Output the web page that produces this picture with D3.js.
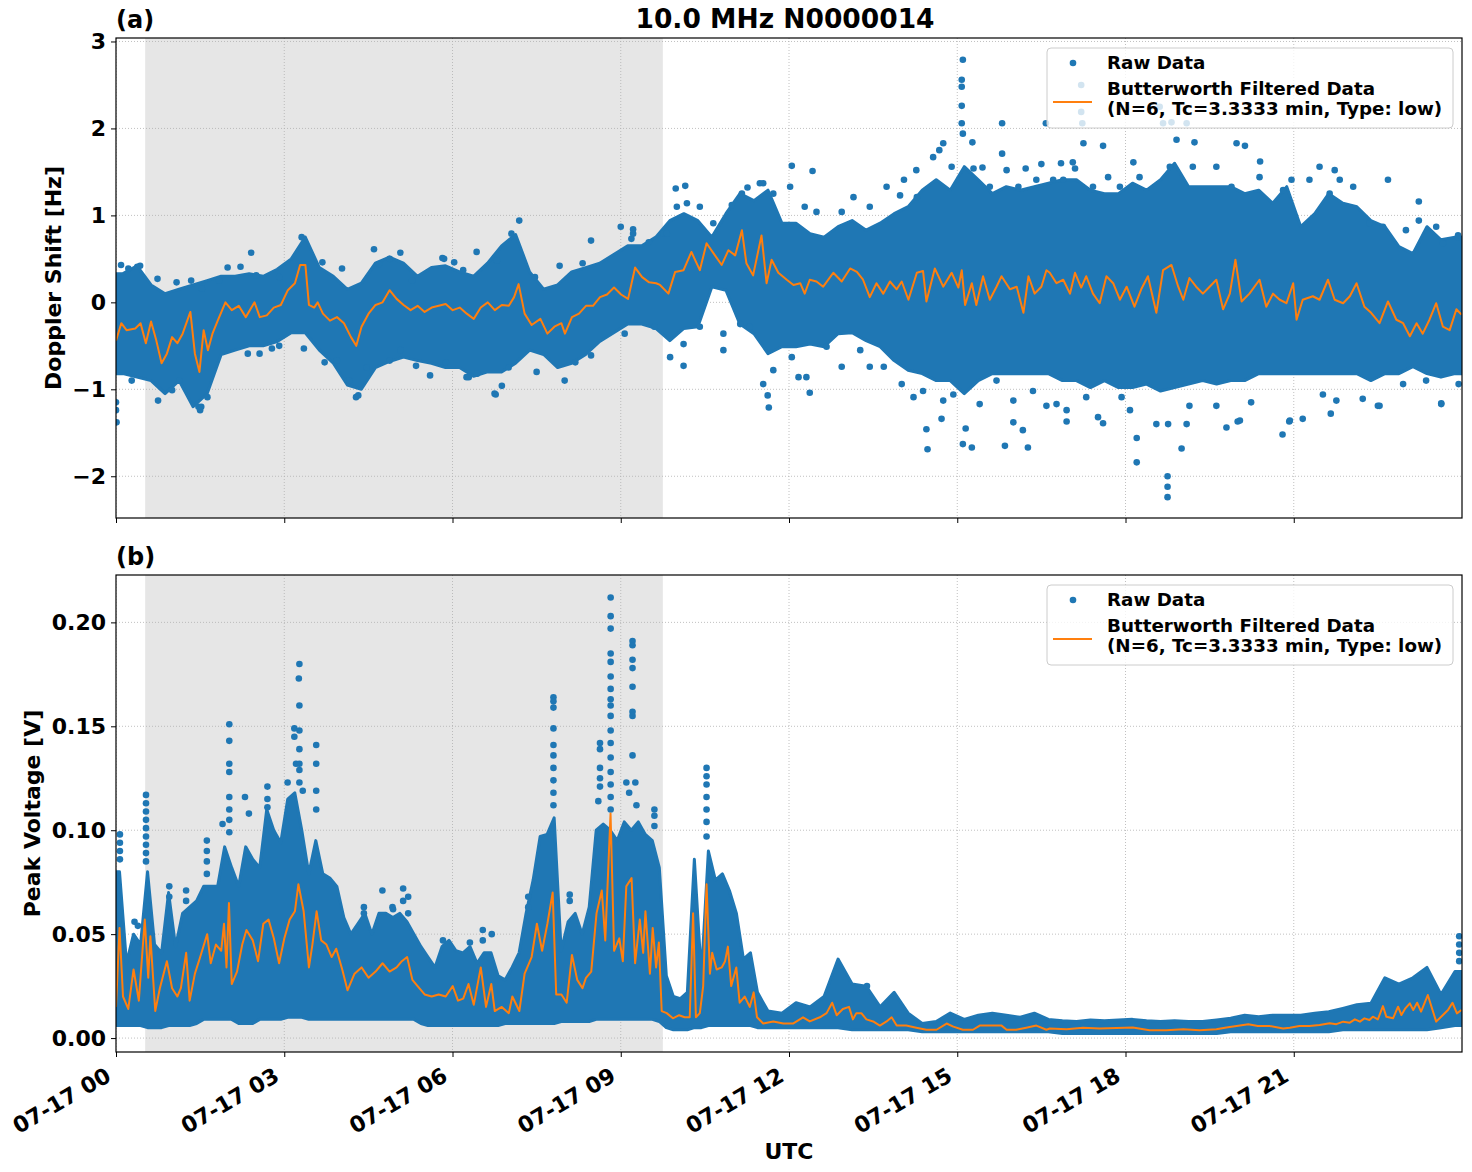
<!DOCTYPE html>
<html>
<head>
<meta charset="utf-8">
<script src="https://cdn.jsdelivr.net/npm/d3@7"></script>
<style>
  body { margin: 0; background: #fff; }
  svg text { font-family: "DejaVu Sans"; font-weight: bold; fill: #000; }
</style>
</head>
<body>
<svg id="chart" width="1472" height="1172"></svg>
<script>
const blue = "#1f77b4";
const orange = "#ff7f0e";

// x ticks (hours of 07-17 UTC)
const xTickHours = [0, 3, 6, 9, 12, 15, 18, 21];
const xTickLabels = ["07-17 00", "07-17 03", "07-17 06", "07-17 09", "07-17 12", "07-17 15", "07-17 18", "07-17 21"];
const nightSpan = [0.52, 9.75];

// Doppler raw-data cloud, read per 15-minute bin: upper / lower extent of the dense dots
const dopplerHi = [
  0.33, 0.42, 0.20, 0.10, 0.15, 0.20, 0.25, 0.30,
  0.30, 0.33, 0.30, 0.38, 0.50, 0.75, 0.40, 0.30,
  0.15, 0.22, 0.45, 0.52, 0.45, 0.30, 0.40, 0.42,
  0.35, 0.30, 0.45, 0.65, 0.78, 0.35, 0.15, 0.20,
  0.35, 0.40, 0.45, 0.55, 0.65, 0.65, 0.75, 0.94,
  1.02, 0.94, 0.75, 1.02, 1.25, 1.17, 1.29, 0.91,
  0.91, 0.79, 0.75, 0.87, 0.94, 0.83, 0.91, 1.02,
  1.10, 1.29, 1.41, 1.29, 1.56, 1.41, 1.25, 1.33,
  1.29, 1.33, 1.37, 1.41, 1.41, 1.29, 1.25, 1.25,
  1.37, 1.29, 1.41, 1.60, 1.33, 1.33, 1.33, 1.33,
  1.25, 1.29, 1.14, 1.33, 0.87, 1.02, 1.25, 1.14,
  1.10, 0.94, 0.87, 0.64, 0.56, 0.87, 0.72, 0.75
];
const dopplerLo = [
  -0.82, -0.86, -0.90, -1.05, -0.90, -1.20, -1.05, -0.60,
  -0.55, -0.50, -0.50, -0.45, -0.35, -0.35, -0.55, -0.70,
  -0.95, -1.00, -0.75, -0.68, -0.63, -0.67, -0.70, -0.75,
  -0.75, -0.85, -0.80, -0.80, -0.70, -0.55, -0.60, -0.75,
  -0.70, -0.60, -0.45, -0.35, -0.25, -0.25, -0.30, -0.44,
  -0.30, -0.28, 0.18, 0.14, -0.25, -0.36, -0.59, -0.51,
  -0.51, -0.48, -0.51, -0.36, -0.35, -0.44, -0.51, -0.67,
  -0.78, -0.82, -0.90, -0.90, -1.05, -0.90, -0.82, -0.82,
  -0.82, -0.82, -0.82, -0.90, -0.90, -0.98, -0.90, -0.98,
  -0.98, -0.94, -1.02, -0.98, -0.94, -0.90, -0.94, -0.90,
  -0.90, -0.82, -0.82, -0.82, -0.82, -0.82, -0.82, -0.82,
  -0.82, -0.90, -0.82, -0.82, -0.74, -0.82, -0.86, -0.82
];

// Peak-voltage raw-data cloud: [bin centre hour, lower, upper]
const voltCloud = [
  [0.0625, 0.006, 0.080], [0.1875, 0.006, 0.036], [0.3125, 0.006, 0.050], [0.4375, 0.006, 0.045],
  [0.5625, 0.005, 0.080], [0.6875, 0.005, 0.045], [0.8125, 0.005, 0.041], [0.9375, 0.006, 0.070],
  [1.0625, 0.006, 0.044], [1.1875, 0.006, 0.060], [1.3125, 0.006, 0.063], [1.4375, 0.007, 0.066],
  [1.5625, 0.009, 0.073], [1.6875, 0.009, 0.073], [1.8125, 0.009, 0.073], [1.9375, 0.009, 0.092],
  [2.0625, 0.009, 0.082], [2.1875, 0.007, 0.073], [2.3125, 0.007, 0.092], [2.4375, 0.007, 0.086],
  [2.5625, 0.009, 0.082], [2.6875, 0.009, 0.110], [2.8125, 0.009, 0.100], [2.9375, 0.009, 0.094],
  [3.0625, 0.010, 0.115], [3.1875, 0.010, 0.118], [3.3125, 0.010, 0.100], [3.4375, 0.009, 0.079],
  [3.5625, 0.009, 0.095], [3.6875, 0.009, 0.079], [3.8125, 0.009, 0.077], [3.9375, 0.009, 0.073],
  [4.0625, 0.009, 0.058], [4.1875, 0.009, 0.050], [4.3125, 0.009, 0.055], [4.4375, 0.009, 0.060],
  [4.5625, 0.009, 0.050], [4.6875, 0.009, 0.060], [4.8125, 0.009, 0.060], [4.9375, 0.009, 0.058],
  [5.0625, 0.009, 0.060], [5.1875, 0.009, 0.056], [5.3125, 0.009, 0.050], [5.4375, 0.007, 0.044],
  [5.5625, 0.006, 0.039], [5.6875, 0.006, 0.034], [5.8125, 0.006, 0.044], [5.9375, 0.006, 0.047],
  [6.0625, 0.006, 0.042], [6.1875, 0.006, 0.041], [6.3125, 0.006, 0.044], [6.4375, 0.006, 0.036],
  [6.5625, 0.006, 0.041], [6.6875, 0.006, 0.041], [6.8125, 0.006, 0.030], [6.9375, 0.007, 0.028],
  [7.0625, 0.007, 0.034], [7.1875, 0.007, 0.041], [7.3125, 0.007, 0.060], [7.4375, 0.007, 0.076],
  [7.5625, 0.007, 0.097], [7.6875, 0.007, 0.098], [7.8125, 0.007, 0.106], [7.9375, 0.008, 0.042],
  [8.0625, 0.008, 0.056], [8.1875, 0.008, 0.060], [8.3125, 0.008, 0.050], [8.4375, 0.008, 0.063],
  [8.5625, 0.009, 0.100], [8.6875, 0.009, 0.103], [8.8125, 0.009, 0.100], [8.9375, 0.009, 0.095],
  [9.0625, 0.009, 0.104], [9.1875, 0.009, 0.100], [9.3125, 0.009, 0.104], [9.4375, 0.009, 0.098],
  [9.5625, 0.009, 0.095], [9.6875, 0.008, 0.082], [9.8125, 0.005, 0.030], [9.9375, 0.004, 0.020],
  [10.0625, 0.004, 0.019], [10.1875, 0.004, 0.022], [10.3125, 0.005, 0.086], [10.4375, 0.005, 0.030],
  [10.5625, 0.006, 0.090], [10.6875, 0.006, 0.076], [10.8125, 0.006, 0.079], [10.9375, 0.006, 0.071],
  [11.0625, 0.006, 0.060], [11.1875, 0.006, 0.038], [11.3125, 0.006, 0.041], [11.4375, 0.005, 0.022],
  [11.625, 0.005, 0.013], [11.875, 0.005, 0.012], [12.125, 0.005, 0.017], [12.375, 0.005, 0.015],
  [12.625, 0.005, 0.020], [12.875, 0.005, 0.038], [13.125, 0.004, 0.026], [13.375, 0.004, 0.025],
  [13.625, 0.004, 0.015], [13.875, 0.004, 0.022], [14.125, 0.004, 0.012], [14.375, 0.003, 0.007],
  [14.625, 0.003, 0.008], [14.875, 0.003, 0.012], [15.125, 0.003, 0.009], [15.375, 0.003, 0.011],
  [15.625, 0.003, 0.012], [15.875, 0.003, 0.011], [16.125, 0.003, 0.010], [16.375, 0.003, 0.012],
  [16.625, 0.003, 0.009], [16.875, 0.0022, 0.0083], [17.125, 0.0022, 0.008], [17.375, 0.0022, 0.0087],
  [17.625, 0.0022, 0.0083], [17.875, 0.0022, 0.0087], [18.125, 0.0022, 0.009], [18.375, 0.0022, 0.0083],
  [18.625, 0.0022, 0.008], [18.875, 0.0022, 0.0083], [19.125, 0.0022, 0.008], [19.375, 0.0022, 0.008],
  [19.625, 0.0022, 0.0087], [19.875, 0.003, 0.0095], [20.125, 0.003, 0.011], [20.375, 0.003, 0.0103],
  [20.625, 0.003, 0.011], [20.875, 0.003, 0.011], [21.125, 0.003, 0.011], [21.375, 0.003, 0.0119],
  [21.625, 0.003, 0.0127], [21.875, 0.004, 0.0143], [22.125, 0.004, 0.016], [22.375, 0.004, 0.0167],
  [22.625, 0.004, 0.029], [22.875, 0.004, 0.026], [23.125, 0.004, 0.029], [23.375, 0.004, 0.034],
  [23.625, 0.005, 0.021], [23.875, 0.006, 0.032]
];

// isolated raw points outside the dense cloud: [hour, value]
const dopplerOutliers = [
  [0.0, -1.15], [0.0, -1.24], [0.01, -1.38], [0.09, 0.43], [0.22, 0.39], [0.28, -0.90], [0.38, 0.41],
  [0.43, 0.42], [0.74, 0.27], [0.75, -1.13], [1.0, -1.01], [1.08, 0.23], [1.13, -0.9], [1.34, 0.25],
  [1.47, -1.2], [1.5, -1.24], [1.52, -1.2], [1.53, 0.16], [1.63, -1.09], [1.84, 0.25], [1.99, 0.40],
  [2.22, 0.41], [2.35, -0.59], [2.41, 0.57], [2.5, 0.31], [2.56, -0.59], [2.78, -0.53], [2.91, 0.29],
  [2.91, -0.5], [3.31, 0.75], [3.35, -0.53], [3.68, 0.46], [3.72, -0.69], [3.94, -0.67], [4.03, 0.39],
  [4.13, -0.9], [4.16, -0.9], [4.28, -1.09], [4.32, -1.07], [4.47, -0.75], [4.6, 0.61], [4.69, 0.44],
  [4.88, 0.5], [4.88, -0.67], [5.07, 0.57], [5.07, -0.55], [5.28, 0.25], [5.35, -0.73], [5.6, -0.84],
  [5.82, 0.51], [5.85, 0.50], [5.88, -0.69], [6.03, 0.46], [6.19, 0.37], [6.25, -0.86], [6.29, -0.86],
  [6.43, 0.58], [6.44, -0.82], [6.75, -1.05], [6.77, -1.06], [6.79, 0.48], [6.88, -0.96], [7.0, -0.75],
  [7.05, 0.79], [7.19, 0.94], [7.47, 0.29], [7.5, -0.8], [7.91, 0.42], [8.0, -0.9], [8.19, -0.69],
  [8.32, 0.45], [8.47, 0.71], [8.47, -0.61], [9.0, 0.87], [9.07, -0.36], [9.19, 0.73], [9.22, 0.84],
  [9.22, 0.79], [9.5, 0.69], [9.6, -0.28], [9.76, 0.79], [9.82, 0.79], [9.88, -0.63], [9.98, 1.31],
  [10.0, 1.1], [10.12, -0.73], [10.12, -0.48], [10.15, 1.34], [10.18, 1.14], [10.41, 1.1], [10.41, -0.28],
  [10.65, 0.91], [10.83, -0.36], [10.83, -0.55], [10.98, 1.12], [11.13, -0.25], [11.16, 1.25], [11.26, 1.32],
  [11.3, -0.28], [11.48, 1.37], [11.54, 1.37], [11.54, -0.94], [11.62, -1.07], [11.64, -1.21], [11.72, 1.25],
  [11.72, -0.78], [12.02, 1.33], [12.05, 1.57], [12.05, -0.63], [12.17, -0.86], [12.28, 1.1], [12.31, -0.86],
  [12.37, -1.04], [12.42, 1.51], [12.49, 1.04], [12.67, -0.51], [12.94, 1.04], [12.94, -0.74], [13.15, 1.21],
  [13.27, -0.55], [13.44, 1.1], [13.44, -0.74], [13.69, -0.74], [13.74, 1.33], [13.98, 1.23], [14.01, -0.94],
  [14.05, 1.41], [14.22, -1.09], [14.27, 1.52], [14.28, 1.21], [14.39, -1.02], [14.45, -1.46], [14.47, -1.69],
  [14.57, 1.67], [14.68, 1.75], [14.72, -1.34], [14.75, 1.83], [14.75, -1.13], [14.9, 1.56], [14.93, -1.06],
  [15.08, 2.56], [15.08, 2.48], [15.08, 2.26], [15.08, 2.06], [15.1, 2.79], [15.1, 1.94], [15.1, -1.63],
  [15.15, -1.45], [15.26, -1.67], [15.27, 1.84], [15.29, 1.54], [15.4, -1.17], [15.45, 1.55], [15.58, 1.33],
  [15.7, -0.9], [15.8, 2.06], [15.8, 1.71], [15.85, -1.65], [15.88, 1.52], [16.0, -1.38], [16.0, -1.13],
  [16.09, 1.33], [16.17, -1.47], [16.22, 1.54], [16.26, -1.67], [16.35, -1.02], [16.41, 1.41], [16.5, 1.59],
  [16.58, 2.06], [16.59, -1.19], [16.71, 1.41], [16.77, -1.17], [16.85, 1.6], [16.89, 1.41], [16.95, -1.37],
  [16.95, -1.24], [17.06, 1.61], [17.1, 1.54], [17.21, 2.5], [17.21, 2.19], [17.23, 2.06], [17.25, 1.83],
  [17.3, -1.09], [17.42, 1.33], [17.51, -1.32], [17.6, 1.8], [17.6, -1.39], [17.69, 1.44], [17.9, 1.33],
  [17.93, -1.09], [18.08, -1.24], [18.14, 1.61], [18.2, -1.84], [18.2, -1.56], [18.25, 1.44], [18.55, -1.4],
  [18.61, 2.25], [18.67, 2.06], [18.75, -2.0], [18.75, -2.12], [18.75, -2.24], [18.76, -1.4], [18.79, 1.56],
  [18.82, 2.07], [18.91, 1.87], [19.0, -1.68], [19.09, 2.06], [19.09, -1.4], [19.14, -1.19], [19.2, 1.56],
  [19.23, 1.84], [19.62, 1.56], [19.62, -1.19], [19.8, -1.44], [19.89, 1.33], [19.98, 1.83], [20.0, -1.37],
  [20.04, -1.36], [20.13, 1.8], [20.24, -1.15], [20.39, 1.44], [20.4, 1.62], [20.8, -1.52], [20.81, 1.29],
  [20.92, -1.37], [20.93, -1.36], [20.96, 1.41], [21.16, -1.34], [21.28, 1.41], [21.46, 1.56], [21.52, -1.06],
  [21.64, 1.25], [21.66, -1.28], [21.73, 1.52], [21.76, -1.13], [21.82, 1.41], [22.06, 1.33], [22.23, -1.11],
  [22.35, 0.91], [22.5, -1.19], [22.53, -1.19], [22.59, 0.87], [22.68, 1.41], [22.95, -0.94], [23.0, 0.83],
  [23.23, 1.16], [23.23, 0.94], [23.36, -0.9], [23.54, 0.87], [23.63, -1.17], [23.63, -1.16], [23.66, 0.68],
  [23.93, 0.75], [23.93, 0.77], [23.94, -0.94]
];
const voltOutliers = [
  [0.07, 0.098], [0.07, 0.094], [0.07, 0.090], [0.07, 0.086],
  [0.33, 0.056], [0.39, 0.054],
  [0.535, 0.117], [0.535, 0.113], [0.535, 0.109], [0.535, 0.105], [0.535, 0.101], [0.535, 0.097],
  [0.535, 0.093], [0.535, 0.089], [0.535, 0.085],
  [0.95, 0.073], [0.95, 0.068], [1.25, 0.071], [1.25, 0.066],
  [1.62, 0.095], [1.62, 0.090], [1.62, 0.085], [1.62, 0.079], [1.9, 0.103],
  [2.02, 0.151], [2.02, 0.143], [2.02, 0.132], [2.02, 0.128], [2.02, 0.116], [2.02, 0.110],
  [2.02, 0.105], [2.02, 0.099], [2.3, 0.116], [2.37, 0.108],
  [2.70, 0.121], [2.70, 0.115], [2.70, 0.111],
  [3.06, 0.123], [3.18, 0.149], [3.18, 0.145], [3.21, 0.132],
  [3.27, 0.180], [3.26, 0.173], [3.27, 0.160], [3.27, 0.148], [3.27, 0.139], [3.27, 0.132],
  [3.27, 0.129], [3.27, 0.123], [3.33, 0.119],
  [3.57, 0.141], [3.57, 0.132], [3.57, 0.119], [3.57, 0.110],
  [4.42, 0.063], [4.42, 0.060], [4.75, 0.071], [4.93, 0.063], [4.94, 0.062],
  [5.12, 0.072], [5.12, 0.066], [5.21, 0.068], [5.21, 0.060],
  [5.83, 0.047], [6.31, 0.046], [6.54, 0.052], [6.54, 0.047], [6.70, 0.050],
  [7.35, 0.068], [7.35, 0.063],
  [7.80, 0.164], [7.80, 0.162], [7.80, 0.159], [7.80, 0.149], [7.80, 0.141], [7.80, 0.136],
  [7.80, 0.130], [7.80, 0.124], [7.80, 0.118], [7.80, 0.112],
  [8.09, 0.069], [8.09, 0.066],
  [8.63, 0.142], [8.63, 0.139], [8.63, 0.130], [8.63, 0.125], [8.63, 0.121], [8.60, 0.114],
  [8.82, 0.212], [8.82, 0.203], [8.82, 0.197], [8.82, 0.185], [8.82, 0.181], [8.82, 0.174],
  [8.82, 0.168], [8.82, 0.163], [8.82, 0.160], [8.82, 0.155], [8.82, 0.148], [8.82, 0.142],
  [8.82, 0.135], [8.82, 0.128], [8.82, 0.122], [8.82, 0.116], [8.82, 0.110],
  [9.10, 0.123], [9.15, 0.118], [9.21, 0.191], [9.21, 0.189], [9.21, 0.182], [9.21, 0.178],
  [9.21, 0.169], [9.21, 0.157], [9.21, 0.155], [9.21, 0.136], [9.26, 0.123], [9.28, 0.112],
  [9.60, 0.110], [9.60, 0.107], [9.60, 0.102],
  [10.53, 0.130], [10.53, 0.126], [10.53, 0.122], [10.53, 0.116], [10.53, 0.110], [10.53, 0.104],
  [10.53, 0.097],
  [13.39, 0.025], [23.95, 0.049], [23.95, 0.045], [23.95, 0.041], [23.95, 0.037]
];

// Butterworth filtered series: [hour, value]
const dopplerFiltered = [
  [0, -0.44], [0.094, -0.24], [0.188, -0.32], [0.344, -0.30], [0.438, -0.24], [0.532, -0.47], [0.625, -0.22],
  [0.719, -0.44], [0.813, -0.70], [0.907, -0.59], [1.0, -0.40], [1.094, -0.47], [1.188, -0.36], [1.326, -0.11],
  [1.407, -0.59], [1.488, -0.80], [1.563, -0.32], [1.639, -0.55], [1.72, -0.36], [1.814, -0.21], [1.951, 0.0],
  [2.064, -0.09], [2.189, -0.04], [2.314, -0.17], [2.47, 0.0], [2.564, -0.17], [2.689, -0.15], [2.814, -0.06],
  [2.939, -0.03], [3.064, 0.14], [3.19, 0.22], [3.283, 0.43], [3.377, 0.43], [3.44, -0.03], [3.533, -0.06],
  [3.596, 0.0], [3.69, -0.13], [3.815, -0.21], [3.94, -0.17], [4.065, -0.24], [4.19, -0.40], [4.284, -0.50],
  [4.378, -0.28], [4.503, -0.13], [4.628, -0.03], [4.753, 0.0], [4.878, 0.14], [5.003, 0.04], [5.128, -0.03],
  [5.253, -0.09], [5.378, -0.04], [5.503, -0.11], [5.629, -0.06], [5.754, -0.04], [5.879, -0.02], [6.004, -0.09],
  [6.129, -0.06], [6.254, -0.13], [6.379, -0.19], [6.504, -0.06], [6.629, 0.0], [6.754, -0.09], [6.879, -0.03],
  [7.004, -0.04], [7.098, 0.06], [7.179, 0.21], [7.286, -0.13], [7.411, -0.26], [7.567, -0.19], [7.692, -0.36],
  [7.817, -0.28], [7.942, -0.24], [8.005, -0.36], [8.13, -0.17], [8.255, -0.13], [8.38, -0.04], [8.505, -0.04],
  [8.63, 0.06], [8.755, 0.09], [8.88, 0.17], [9.006, 0.09], [9.131, 0.04], [9.256, 0.40], [9.381, 0.29],
  [9.506, 0.23], [9.631, 0.22], [9.70, 0.20], [9.85, 0.10], [9.97, 0.35], [10.12, 0.37], [10.26, 0.58],
  [10.41, 0.37], [10.53, 0.68], [10.68, 0.54], [10.80, 0.43], [10.92, 0.60], [11.04, 0.54], [11.16, 0.83],
  [11.24, 0.45], [11.36, 0.31], [11.51, 0.77], [11.60, 0.22], [11.69, 0.49], [11.81, 0.34], [11.96, 0.26],
  [12.08, 0.20], [12.20, 0.22], [12.28, 0.10], [12.37, 0.26], [12.49, 0.24], [12.61, 0.18], [12.79, 0.34],
  [12.94, 0.24], [13.09, 0.39], [13.21, 0.35], [13.32, 0.26], [13.44, 0.06], [13.56, 0.22], [13.68, 0.10],
  [13.80, 0.24], [13.92, 0.15], [14.01, 0.24], [14.13, 0.03], [14.28, 0.34], [14.39, 0.36], [14.45, 0.01],
  [14.60, 0.39], [14.75, 0.18], [14.90, 0.34], [15.02, 0.17], [15.08, 0.37], [15.14, -0.03], [15.26, 0.22],
  [15.34, -0.03], [15.46, 0.30], [15.58, 0.03], [15.70, 0.18], [15.79, 0.30], [15.94, 0.15], [16.06, 0.18],
  [16.18, -0.12], [16.27, 0.30], [16.38, 0.10], [16.50, 0.18], [16.59, 0.37], [16.65, 0.34], [16.77, 0.22],
  [16.89, 0.26], [17.01, 0.10], [17.10, 0.34], [17.21, 0.17], [17.30, 0.30], [17.42, 0.10], [17.54, -0.01],
  [17.66, 0.30], [17.78, 0.22], [17.90, 0.03], [18.02, 0.18], [18.16, -0.05], [18.28, 0.15], [18.40, 0.30],
  [18.55, -0.12], [18.67, 0.37], [18.82, 0.43], [18.94, 0.18], [19.03, 0.03], [19.14, 0.28], [19.26, 0.18],
  [19.38, 0.10], [19.50, 0.18], [19.62, 0.26], [19.74, -0.08], [19.86, 0.10], [19.96, 0.49], [20.07, 0.01],
  [20.21, 0.10], [20.39, 0.26], [20.51, -0.05], [20.63, 0.10], [20.75, 0.03], [20.87, -0.01], [20.99, 0.22],
  [21.05, -0.20], [21.16, 0.03], [21.34, 0.07], [21.46, 0.03], [21.61, 0.26], [21.73, 0.03], [21.88, -0.01],
  [22.00, 0.07], [22.12, 0.22], [22.26, -0.05], [22.38, -0.12], [22.53, -0.24], [22.68, 0.01], [22.83, -0.20],
  [22.95, -0.24], [23.07, -0.39], [23.19, -0.24], [23.30, -0.36], [23.42, -0.20], [23.54, -0.01], [23.66, -0.28],
  [23.78, -0.32], [23.90, -0.08], [23.99, -0.14]
];
const voltFiltered = [
  [0, 0.015], [0.063, 0.053], [0.125, 0.020], [0.219, 0.014], [0.313, 0.033], [0.407, 0.018], [0.513, 0.057],
  [0.575, 0.029], [0.613, 0.049], [0.70, 0.013], [0.782, 0.024], [0.907, 0.037], [1.0, 0.024], [1.094, 0.020],
  [1.157, 0.024], [1.251, 0.041], [1.313, 0.018], [1.407, 0.031], [1.501, 0.039], [1.626, 0.050], [1.689, 0.036],
  [1.782, 0.045], [1.876, 0.042], [1.926, 0.055], [1.97, 0.034], [2.014, 0.065], [2.064, 0.026], [2.158, 0.032],
  [2.251, 0.045], [2.326, 0.052], [2.439, 0.047], [2.533, 0.037], [2.627, 0.055], [2.72, 0.057], [2.814, 0.048],
  [2.908, 0.036], [3.002, 0.048], [3.096, 0.057], [3.19, 0.061], [3.252, 0.074], [3.346, 0.061], [3.44, 0.034],
  [3.502, 0.045], [3.577, 0.061], [3.659, 0.047], [3.752, 0.045], [3.846, 0.039], [3.927, 0.043], [4.034, 0.033],
  [4.128, 0.023], [4.253, 0.031], [4.378, 0.034], [4.503, 0.029], [4.628, 0.032], [4.753, 0.036], [4.878, 0.032],
  [5.003, 0.034], [5.097, 0.037], [5.191, 0.039], [5.285, 0.028], [5.378, 0.025], [5.503, 0.021], [5.629, 0.020],
  [5.754, 0.021], [5.879, 0.020], [6.004, 0.025], [6.098, 0.018], [6.191, 0.019], [6.285, 0.026], [6.379, 0.016],
  [6.504, 0.034], [6.598, 0.015], [6.692, 0.026], [6.754, 0.013], [6.879, 0.015], [7.004, 0.012], [7.067, 0.020],
  [7.192, 0.013], [7.286, 0.031], [7.411, 0.039], [7.505, 0.055], [7.598, 0.042], [7.692, 0.055], [7.786, 0.070],
  [7.849, 0.021], [7.942, 0.021], [8.036, 0.017], [8.13, 0.040], [8.224, 0.028], [8.318, 0.024], [8.38, 0.029],
  [8.474, 0.032], [8.568, 0.060], [8.662, 0.071], [8.724, 0.047], [8.818, 0.108], [8.881, 0.042], [8.974, 0.048],
  [9.037, 0.037], [9.099, 0.073], [9.193, 0.077], [9.256, 0.036], [9.34, 0.057], [9.40, 0.041], [9.44, 0.061],
  [9.52, 0.031], [9.57, 0.053], [9.63, 0.034], [9.68, 0.046], [9.73, 0.013], [9.82, 0.012], [9.93, 0.0095],
  [10.04, 0.011], [10.14, 0.010], [10.23, 0.010], [10.29, 0.060], [10.34, 0.010], [10.41, 0.012], [10.47, 0.025],
  [10.53, 0.074], [10.59, 0.031], [10.63, 0.041], [10.71, 0.033], [10.80, 0.034], [10.86, 0.037], [10.91, 0.044],
  [10.97, 0.025], [11.06, 0.034], [11.12, 0.017], [11.21, 0.020], [11.30, 0.015], [11.37, 0.022], [11.43, 0.010],
  [11.54, 0.007], [11.72, 0.008], [11.90, 0.007], [12.07, 0.007], [12.25, 0.010], [12.37, 0.008], [12.55, 0.010],
  [12.67, 0.012], [12.77, 0.017], [12.85, 0.011], [12.96, 0.014], [13.07, 0.015], [13.14, 0.009], [13.20, 0.012],
  [13.29, 0.012], [13.38, 0.009], [13.50, 0.008], [13.62, 0.006], [13.74, 0.008], [13.83, 0.010], [13.92, 0.006],
  [14.09, 0.006], [14.27, 0.005], [14.45, 0.004], [14.63, 0.004], [14.81, 0.007], [14.93, 0.0055], [15.10, 0.004],
  [15.28, 0.004], [15.40, 0.006], [15.58, 0.006], [15.79, 0.006], [15.88, 0.004], [16.05, 0.004], [16.23, 0.005],
  [16.41, 0.006], [16.59, 0.004], [16.65, 0.0046], [16.95, 0.0042], [17.24, 0.005], [17.54, 0.0046], [17.84, 0.0048],
  [18.13, 0.0051], [18.43, 0.0038], [18.73, 0.0038], [19.03, 0.0042], [19.32, 0.0038], [19.62, 0.0042], [19.80, 0.0051],
  [19.98, 0.0058], [20.19, 0.0066], [20.36, 0.0058], [20.57, 0.0058], [20.81, 0.0046], [20.93, 0.005], [21.10, 0.0058],
  [21.28, 0.0058], [21.46, 0.0063], [21.64, 0.0071], [21.76, 0.0067], [21.88, 0.0079], [22.00, 0.0074], [22.09, 0.009],
  [22.18, 0.0079], [22.26, 0.0095], [22.35, 0.0087], [22.41, 0.0103], [22.50, 0.009], [22.59, 0.0154], [22.65, 0.0103],
  [22.77, 0.0095], [22.86, 0.0151], [22.92, 0.0111], [22.99, 0.0143], [23.07, 0.0167], [23.13, 0.0135], [23.20, 0.017],
  [23.27, 0.0127], [23.39, 0.0207], [23.54, 0.0079], [23.66, 0.0111], [23.75, 0.0135], [23.83, 0.017], [23.91, 0.0119],
  [23.99, 0.0135]
];

const left = 116, right = 1462;
const svg = d3.select("#chart");

const x = d3.scaleLinear().domain([0, 24]).range([left, right]);

const panels = [
  {
    id: "a", top: 38, bottom: 518,
    domain: [-2.48, 3.04], ticks: [-2, -1, 0, 1, 2, 3],
    fmt: d => d < 0 ? "\u2212" + Math.abs(d) : String(d),
    cloud: dopplerHi.map((h, i) => [i * 0.25 + 0.125, dopplerLo[i], h]),
    outliers: dopplerOutliers, filtered: dopplerFiltered,
    ylabel: "Doppler Shift [Hz]", ylabelX: 61, showX: false
  },
  {
    id: "b", top: 575, bottom: 1052,
    domain: [-0.0067, 0.2228], ticks: [0, 0.05, 0.1, 0.15, 0.2],
    fmt: d3.format(".2f"),
    cloud: voltCloud, outliers: voltOutliers, filtered: voltFiltered,
    ylabel: "Peak Voltage [V]", ylabelX: 40, showX: true
  }
];

panels.forEach(p => {
  const y = d3.scaleLinear().domain(p.domain).range([p.bottom, p.top]);
  const g = svg.append("g");

  g.append("clipPath").attr("id", `clip-${p.id}`)
    .append("rect")
    .attr("x", left).attr("y", p.top)
    .attr("width", right - left).attr("height", p.bottom - p.top);

  const plot = g.append("g").attr("clip-path", `url(#clip-${p.id})`);

  // night shading
  plot.append("rect")
    .attr("x", x(nightSpan[0])).attr("y", p.top)
    .attr("width", x(nightSpan[1]) - x(nightSpan[0]))
    .attr("height", p.bottom - p.top)
    .attr("fill", "#e6e6e6");

  // grid
  const grid = plot.append("g")
    .attr("stroke", "#b0b0b0").attr("stroke-width", 0.8)
    .attr("stroke-dasharray", "1,2");
  grid.selectAll(".gx").data(xTickHours).join("line")
    .attr("class", "gx")
    .attr("x1", d => x(d)).attr("x2", d => x(d))
    .attr("y1", p.top).attr("y2", p.bottom);
  grid.selectAll(".gy").data(p.ticks).join("line")
    .attr("class", "gy")
    .attr("x1", left).attr("x2", right)
    .attr("y1", d => y(d)).attr("y2", d => y(d));

  // dense raw-data cloud (first / last bin stretched to the axis edges)
  const first = p.cloud[0], last = p.cloud[p.cloud.length - 1];
  const cloud = [[0, first[1], first[2]], ...p.cloud, [24, last[1], last[2]]];
  const area = d3.area()
    .x(d => x(d[0])).y0(d => y(d[1])).y1(d => y(d[2]));
  plot.append("path")
    .datum(cloud)
    .attr("d", area)
    .attr("fill", blue).attr("stroke", blue)
    .attr("stroke-width", 3).attr("stroke-linejoin", "round");

  // isolated raw points
  plot.selectAll(".out").data(p.outliers).join("circle")
    .attr("class", "out")
    .attr("cx", d => x(d[0])).attr("cy", d => y(d[1]))
    .attr("r", 3.3).attr("fill", blue);

  // filtered line
  const line = d3.line().x(d => x(d[0])).y(d => y(d[1]));
  plot.append("path")
    .datum(p.filtered)
    .attr("d", line)
    .attr("fill", "none").attr("stroke", orange)
    .attr("stroke-width", 2).attr("stroke-linejoin", "round");

  // y axis
  const yAxis = g.append("g")
    .attr("transform", `translate(${left},0)`)
    .call(d3.axisLeft(y).tickValues(p.ticks).tickFormat(p.fmt).tickSize(5).tickPadding(5));
  yAxis.select(".domain").remove();
  yAxis.selectAll("line").attr("stroke", "#000").attr("stroke-width", 1);
  yAxis.selectAll("text").attr("font-size", 22).attr("font-family", "DejaVu Sans").attr("font-weight", "bold");

  // x axis
  const xAxis = g.append("g")
    .attr("transform", `translate(0,${p.bottom})`)
    .call(d3.axisBottom(x).tickValues(xTickHours)
      .tickFormat((d, i) => p.showX ? xTickLabels[i] : "").tickSize(5));
  xAxis.select(".domain").remove();
  xAxis.selectAll("line").attr("stroke", "#000").attr("stroke-width", 1);
  xAxis.selectAll("text")
    .attr("font-size", 22).attr("font-family", "DejaVu Sans").attr("font-weight", "bold")
    .attr("y", 0).attr("dy", 0)
    .attr("text-anchor", "end")
    .attr("transform", "translate(-4,28) rotate(-30)");

  // frame
  g.append("rect")
    .attr("x", left).attr("y", p.top)
    .attr("width", right - left).attr("height", p.bottom - p.top)
    .attr("fill", "none").attr("stroke", "#000").attr("stroke-width", 1.2);

  // y label
  g.append("text")
    .attr("transform", `translate(${p.ylabelX},${(p.top + p.bottom) / 2}) rotate(-90)`)
    .attr("text-anchor", "middle").attr("font-size", 22)
    .text(p.ylabel);

  // panel tag
  g.append("text")
    .attr("x", left).attr("y", p.top - 10)
    .attr("font-size", 24)
    .text(`(${p.id})`);

  // legend
  const lg = g.append("g").attr("transform", `translate(1047,${p.top + 10})`);
  lg.append("rect")
    .attr("width", 406).attr("height", 80).attr("rx", 4)
    .attr("fill", "#fff").attr("fill-opacity", 0.8)
    .attr("stroke", "#cccccc").attr("stroke-width", 1);
  lg.append("circle").attr("cx", 26).attr("cy", 15).attr("r", 3.3).attr("fill", blue);
  lg.append("text").attr("x", 60).attr("y", 21).attr("font-size", 18.3).text("Raw Data");
  lg.append("line").attr("x1", 6).attr("x2", 45).attr("y1", 54).attr("y2", 54)
    .attr("stroke", orange).attr("stroke-width", 2);
  lg.append("text").attr("x", 60).attr("y", 47).attr("font-size", 18.3).text("Butterworth Filtered Data");
  lg.append("text").attr("x", 60).attr("y", 67).attr("font-size", 18.3).text("(N=6, Tc=3.3333 min, Type: low)");
});

// title and x label
svg.append("text")
  .attr("x", (left + right) / 2 - 4).attr("y", 28)
  .attr("text-anchor", "middle").attr("font-size", 26.5)
  .text("10.0 MHz N0000014");

svg.append("text")
  .attr("x", (left + right) / 2).attr("y", 1159)
  .attr("text-anchor", "middle").attr("font-size", 22)
  .text("UTC");
</script>
</body>
</html>
